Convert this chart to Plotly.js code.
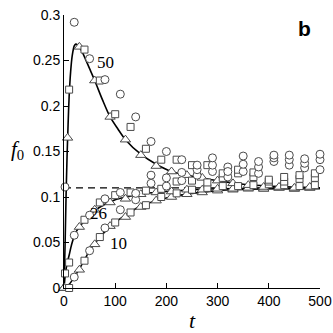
<!DOCTYPE html>
<html>
<head>
<meta charset="utf-8">
<script src="https://cdn.plot.ly/plotly-3.0.1.min.js"></script>
<style>
  html, body { margin: 0; padding: 0; background: #ffffff; }
  #chart { width: 333px; height: 333px; }
</style>
</head>
<body>
<div id="chart"></div>
<script>
// model curves (solid lines)
var curveT50 = [ 0, 2, 4, 6, 8, 10, 13, 16, 20, 23, 27, 30, 35, 40, 50, 60, 75, 90, 105, 120, 150, 180, 210, 240, 270, 300, 350, 400, 450, 500 ];
var curveF50 = [ 0, 0.045, 0.1, 0.145, 0.18, 0.21, 0.238, 0.255, 0.266, 0.268, 0.267, 0.265, 0.26, 0.254, 0.241, 0.228, 0.207, 0.188, 0.175, 0.163, 0.147, 0.136, 0.128, 0.124, 0.121, 0.118, 0.114, 0.112, 0.111, 0.110 ];
var curveT26 = [ 0, 2, 5, 10, 15, 20, 25, 30, 40, 50, 60, 80, 100, 130, 160, 200, 250, 300, 400, 500 ];
var curveF26 = [ 0, 0.012, 0.024, 0.036, 0.048, 0.057, 0.063, 0.067, 0.074, 0.080, 0.085, 0.092, 0.097, 0.101, 0.104, 0.106, 0.108, 0.109, 0.1095, 0.1095 ];
var curveT10 = [ 0, 10, 20, 30, 40, 50, 60, 80, 100, 120, 150, 200, 250, 300, 400, 500 ];
var curveF10 = [ 0, 0.004, 0.012, 0.021, 0.031, 0.041, 0.049, 0.062, 0.072, 0.080, 0.090, 0.099, 0.104, 0.107, 0.109, 0.1095 ];

var eqLevel = 0.11;
var eqT = [ 0, 500 ];

// simulation points
var triT = [ 0, 30, 60, 90, 120, 150, 180, 210, 240, 270, 300, 330, 360, 390, 420, 450, 480 ];
var sqT  = [ 10, 40, 70, 100, 130, 160, 190, 220, 250, 280, 310, 340, 370, 400, 430, 460, 490 ];
var cirT = [ 20, 50, 80, 110, 140, 170, 200, 230, 260, 290, 320, 350, 380, 410, 440, 470, 500 ];

var tri50 = [ 0, 0.265, 0.228, 0.188, 0.163, 0.146, 0.134, 0.128, 0.124, 0.121, 0.118, 0.115, 0.113, 0.111, 0.111, 0.110, 0.111 ];
var tri26 = [ 0, 0.067, 0.086, 0.094, 0.098, 0.103, 0.105, 0.106, 0.108, 0.108, 0.109, 0.109, 0.110, 0.109, 0.110, 0.109, 0.110 ];
var tri10 = [ 0, 0.020, 0.048, 0.068, 0.078, 0.089, 0.096, 0.100, 0.103, 0.105, 0.107, 0.108, 0.109, 0.109, 0.110, 0.109, 0.110 ];

var sq50 = [ 0.218, 0.262, 0.228, 0.191, 0.177, 0.153, 0.141, 0.141, 0.135, 0.135, 0.126, 0.130, 0.127, 0.119, 0.122, 0.124, 0.126 ];
var sq26 = [ 0.028, 0.075, 0.094, 0.102, 0.105, 0.107, 0.109, 0.117, 0.118, 0.116, 0.121, 0.126, 0.122, 0.117, 0.117, 0.120, 0.121 ];
var sq10 = [ 0.000, 0.030, 0.056, 0.072, 0.083, 0.091, 0.100, 0.104, 0.108, 0.110, 0.112, 0.112, 0.113, 0.114, 0.113, 0.112, 0.113 ];

var cir50 = [ 0.292, 0.252, 0.229, 0.213, 0.188, 0.161, 0.150, 0.141, 0.135, 0.143, 0.128, 0.145, 0.139, 0.146, 0.146, 0.142, 0.147 ];
var cir26 = [ 0.058, 0.080, 0.098, 0.105, 0.104, 0.124, 0.121, 0.127, 0.130, 0.135, 0.133, 0.136, 0.133, 0.143, 0.141, 0.137, 0.141 ];
var cir10 = [ 0.012, 0.041, 0.066, 0.086, 0.097, 0.115, 0.112, 0.118, 0.124, 0.128, 0.122, 0.128, 0.126, 0.139, 0.135, 0.132, 0.130 ];

// a few early extra points
var extraTriT = [ 7 ],  extraTriF = [ 0.165 ];
var extraSqT  = [ 2 ],  extraSqF  = [ 0.016 ];
var extraCirT = [ 2 ],  extraCirF = [ 0.111 ];

var curveLabels = [ '50', '26', '10' ];
var labelT = [ 82, 67, 106 ];
var labelF = [ 0.248, 0.082, 0.049 ];

function line_trace( x, y, dash )
{
    return {
        x: x,
        y: y,
        mode: 'lines',
        cliponaxis: false,
        hoverinfo: 'skip',
        line:
        {
            color: '#000000',
            width: dash ? 1.4 : 1.6,
            dash: dash || 'solid',
            shape: dash ? 'linear' : 'spline',
            smoothing: 0.8
        }
    };
}

function marker_trace( x, y, symbol, size )
{
    return {
        x: x,
        y: y,
        mode: 'markers',
        cliponaxis: false,
        hoverinfo: 'skip',
        marker:
        {
            symbol: symbol,
            size: size,
            color: '#ffffff',
            line: { color: '#4a4a4a', width: 1 }
        }
    };
}

var data =
[
    line_trace( eqT, [ eqLevel, eqLevel ], '7px,5px' ),
    line_trace( curveT10, curveF10 ),
    line_trace( curveT26, curveF26 ),
    line_trace( curveT50, curveF50 ),
    marker_trace( triT.concat( triT, triT, extraTriT ), tri10.concat( tri26, tri50, extraTriF ), 'triangle-up', 9 ),
    marker_trace( sqT.concat( sqT, sqT, extraSqT ), sq10.concat( sq26, sq50, extraSqF ), 'square', 7 ),
    marker_trace( cirT.concat( cirT, cirT, extraCirT ), cir10.concat( cir26, cir50, extraCirF ), 'circle', 8 )
];

var serif = 'Liberation Serif, Times New Roman, serif';
var sans = 'Liberation Sans, Arial, sans-serif';

var annotations = [];
for( var i = 0; i < curveLabels.length; i++ )
{
    annotations.push(
        {
            x: labelT[ i ],
            y: labelF[ i ],
            xref: 'x',
            yref: 'y',
            text: curveLabels[ i ],
            showarrow: false,
            font: { family: serif, size: 17, color: '#000000' }
        }
    );
}
// y title is upright in the original, so it goes in as an annotation
annotations.push(
    {
        x: -0.18,
        y: 0.505,
        xref: 'paper',
        yref: 'paper',
        xanchor: 'center',
        yanchor: 'middle',
        text: '<i>f</i><sub>0</sub>',
        showarrow: false,
        font: { family: serif, size: 21, color: '#000000' }
    }
);
annotations.push(
    {
        x: 0.94,
        y: 0.95,
        xref: 'paper',
        yref: 'paper',
        xanchor: 'center',
        yanchor: 'middle',
        text: '<b>b</b>',
        showarrow: false,
        font: { family: sans, size: 21, color: '#000000' }
    }
);

var axisFont = { family: sans, size: 14, color: '#000000' };

var layout =
{
    width: 333,
    height: 333,
    margin: { l: 64, r: 13, t: 15, b: 45 },
    paper_bgcolor: '#ffffff',
    plot_bgcolor: '#ffffff',
    showlegend: false,
    xaxis:
    {
        range: [ 0, 500 ],
        dtick: 100,
        ticks: 'inside',
        ticklen: 5,
        tickcolor: '#000000',
        showline: true,
        linecolor: '#000000',
        linewidth: 1,
        showgrid: false,
        zeroline: false,
        tickfont: axisFont,
        title:
        {
            text: '<i>t</i>',
            standoff: 6,
            font: { family: serif, size: 22, color: '#000000' }
        }
    },
    yaxis:
    {
        range: [ 0, 0.3 ],
        dtick: 0.05,
        ticks: 'inside',
        ticklen: 5,
        tickcolor: '#000000',
        showline: true,
        linecolor: '#000000',
        linewidth: 1,
        showgrid: false,
        zeroline: false,
        tickfont: axisFont
    },
    annotations: annotations
};

Plotly.newPlot( 'chart', data, layout, { displayModeBar: false, staticPlot: true } );
</script>
</body>
</html>
